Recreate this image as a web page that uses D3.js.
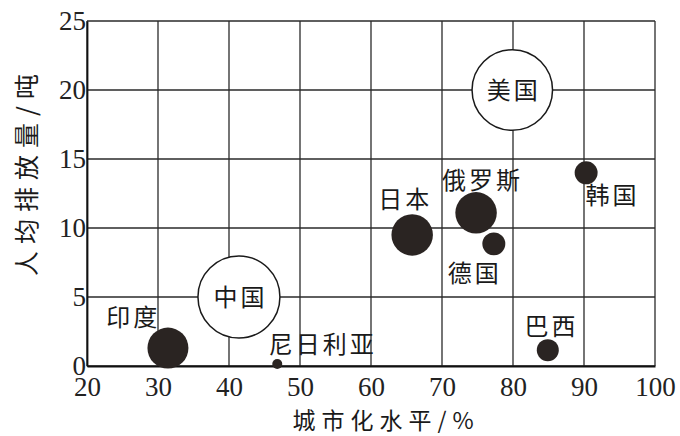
<!DOCTYPE html>
<html>
<head>
<meta charset="utf-8">
<script src="https://cdn.jsdelivr.net/npm/d3@7"></script>
<style>
  html, body { margin: 0; padding: 0; background: #fff; }
  svg { display: block; }
  .tick-num { font-family: "Liberation Serif", "DejaVu Serif", serif; font-size: 27px; fill: #222; }
  .cjk { font-family: "Noto Sans CJK SC", sans-serif; fill: #1a1a1a; }
</style>
</head>
<body>
<div id="chart"></div>
<script>
// 国家、城市化水平(%)、人均排放量(吨)、气泡规模（相对值）
var countries = ["美国", "中国", "印度", "日本", "俄罗斯", "德国", "巴西", "韩国", "尼日利亚"];
var urban = [79.9, 41.4, 31.4, 65.8, 74.8, 77.3, 84.9, 90.3, 46.8];
var perCapita = [20, 5, 1.3, 9.5, 11.1, 8.85, 1.15, 14, 0.15];
var scale = [16.2, 16.8, 4.2, 4.3, 4.3, 1.32, 1.21, 1.32, 0.25];
// 文字标注位置（数据坐标），空心圆的标注在圆内
var labelX = [null, null, 26.3, 64.6, 75.5, 74.4, 85.2, 93.8, 53.0];
var labelY = [null, null, 3.55, 12.06, 13.45, 6.7, 2.9, 12.4, 1.6];
var hollow = ["美国", "中国"];

var xTicks = [20, 30, 40, 50, 60, 70, 80, 90, 100];
var yTicks = [0, 5, 10, 15, 20, 25];

var width = 680, height = 436;
var margin = ({top: 21, right: 25, bottom: 70, left: 87});

var x = d3.scaleLinear().domain([20, 100]).range([margin.left, width - margin.right]);
var y = d3.scaleLinear().domain([0, 25]).range([height - margin.bottom, margin.top]);
var r = d3.scaleSqrt().domain([0, 16]).range([0, 40]);

var svg = d3.select("#chart").append("svg")
  .attr("width", width)
  .attr("height", height);

// 网格
svg.append("g")
  .selectAll("line")
  .data(xTicks)
  .join("line")
    .attr("x1", d => x(d)).attr("x2", d => x(d))
    .attr("y1", y(0)).attr("y2", y(25))
    .attr("stroke", "#2a2a2a")
    .attr("stroke-width", 1.3);

svg.append("g")
  .selectAll("line")
  .data(yTicks)
  .join("line")
    .attr("x1", x(20)).attr("x2", x(100))
    .attr("y1", d => y(d)).attr("y2", d => y(d))
    .attr("stroke", "#2a2a2a")
    .attr("stroke-width", 1.3);

// 坐标轴
var xAxis = g => g
  .attr("transform", `translate(0,${y(0)})`)
  .call(d3.axisBottom(x).tickValues(xTicks).tickSize(0).tickPadding(30))
  .call(g => g.select(".domain").attr("stroke", "#111").attr("stroke-width", 1.8))
  .call(g => g.selectAll(".tick text").attr("class", "tick-num").attr("font-size", 26).attr("dy", 0));

var yAxis = g => g
  .attr("transform", `translate(${x(20)},0)`)
  .call(d3.axisLeft(y).tickValues(yTicks).tickSize(0).tickPadding(1))
  .call(g => g.select(".domain").attr("stroke", "#111").attr("stroke-width", 1.8))
  .call(g => g.selectAll(".tick text").attr("class", "tick-num").attr("dy", "0.3em"));

svg.append("g").call(xAxis);
svg.append("g").call(yAxis);

// 气泡
var data = countries.map((c, i) => ({
  name: c, x: urban[i], y: perCapita[i], s: scale[i], lx: labelX[i], ly: labelY[i],
  hollow: hollow.indexOf(c) >= 0
}));

svg.append("g")
  .selectAll("circle")
  .data(data)
  .join("circle")
    .attr("cx", d => x(d.x))
    .attr("cy", d => y(d.y))
    .attr("r", d => r(d.s))
    .attr("fill", d => d.hollow ? "#fff" : "#2a2422")
    .attr("stroke", d => d.hollow ? "#1a1a1a" : "none")
    .attr("stroke-width", 1.5);

// 标注
svg.append("g")
  .selectAll("text")
  .data(data)
  .join("text")
    .attr("class", "cjk")
    .attr("x", d => d.hollow ? x(d.x) : x(d.lx))
    .attr("y", d => d.hollow ? y(d.y) : y(d.ly))
    .attr("text-anchor", "middle")
    .attr("dy", "0.36em")
    .attr("font-size", 24)
    .attr("letter-spacing", 3)
    .attr("dx", 1.5)
    .text(d => d.name);

// 轴标题
svg.append("text")
  .attr("class", "cjk")
  .attr("x", 386)
  .attr("y", height - 7)
  .attr("text-anchor", "middle")
  .attr("font-size", 23)
  .attr("letter-spacing", 6)
  .text("城市化水平/%");

svg.append("text")
  .attr("class", "cjk")
  .attr("transform", `translate(27,${(y(0) + y(25)) / 2 - 22}) rotate(-90)`)
  .attr("text-anchor", "middle")
  .attr("dy", "0.36em")
  .attr("font-size", 25)
  .attr("letter-spacing", 7)
  .text("人均排放量/吨");
</script>
</body>
</html>
